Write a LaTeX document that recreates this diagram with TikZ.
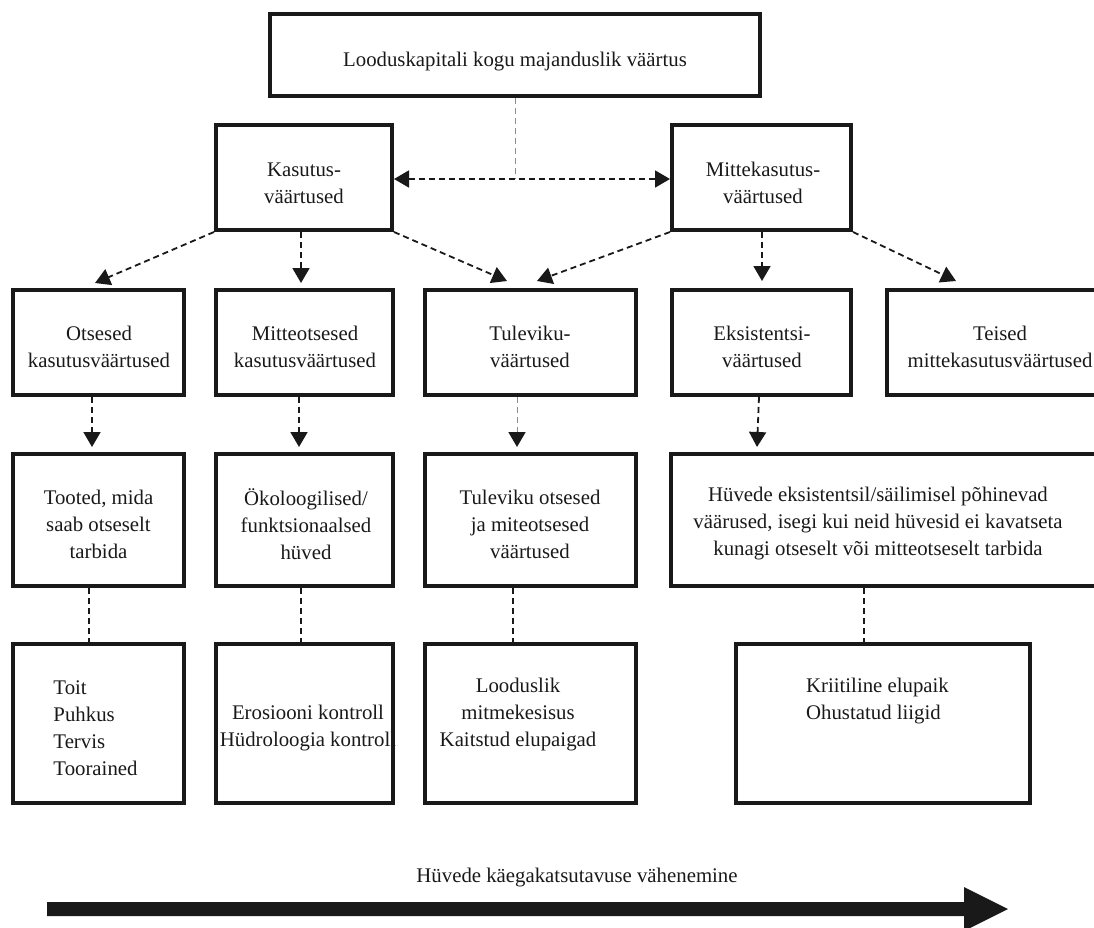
\documentclass[tikz,border=0pt]{standalone}
\usepackage{fontspec}
\setmainfont{Liberation Serif}
\usetikzlibrary{arrows.meta}
\begin{document}
\begin{tikzpicture}[x=1pt,y=-1pt,
  boxn/.style={draw=black!90, line width=4pt, inner sep=0pt, fill=none},
  txt/.style={font=\fontsize{20.8}{27}\selectfont, align=center, inner sep=0pt, text=black!90},
  dl/.style={draw=black!90, line width=1.8pt, dash pattern=on 6pt off 4pt},
  arr/.style={dl, -{Triangle[width=17pt,length=15pt]}},
  darr/.style={dl, {Triangle[width=17pt,length=15pt]}-{Triangle[width=17pt,length=15pt]}},
  thin/.style={draw=black!45, line width=1pt, dash pattern=on 6pt off 4pt}]
\useasboundingbox (0,0) rectangle (1094,928);

% boxes
\node[boxn, minimum width=490pt, minimum height=82pt] (top) at (515,55) {};
\node[boxn, minimum width=176pt, minimum height=105pt] (kas) at (304,177.5) {};
\node[boxn, minimum width=179pt, minimum height=105pt] (mit) at (761.5,177.5) {};

\node[boxn, minimum width=171pt, minimum height=105pt] (r2a) at (98.5,342.5) {};
\node[boxn, minimum width=177pt, minimum height=105pt] (r2b) at (304.5,342.5) {};
\node[boxn, minimum width=211pt, minimum height=105pt] (r2c) at (530.5,342.5) {};
\node[boxn, minimum width=179pt, minimum height=105pt] (r2d) at (761.5,342.5) {};
\node[boxn, minimum width=226pt, minimum height=105pt] (r2e) at (1000,342.5) {};

\node[boxn, minimum width=171pt, minimum height=132pt] (r3a) at (98.5,520) {};
\node[boxn, minimum width=177pt, minimum height=132pt] (r3b) at (304.5,520) {};
\node[boxn, minimum width=211pt, minimum height=132pt] (r3c) at (530.5,520) {};
\node[boxn, minimum width=447pt, minimum height=132pt] (r3d) at (894.5,520) {};

\node[boxn, minimum width=171pt, minimum height=159pt] (r4a) at (98.5,723.5) {};
\node[boxn, minimum width=177pt, minimum height=159pt] (r4b) at (304.5,723.5) {};
\node[boxn, minimum width=211pt, minimum height=159pt] (r4c) at (530.5,723.5) {};
\node[boxn, minimum width=294pt, minimum height=159pt] (r4d) at (883,723.5) {};

% texts
\node[txt] (ttop) at (515,62) {Looduskapitali kogu majanduslik väärtus};
\node[txt] (tkas) at (304,183) {Kasutus-\\väärtused};
\node[txt] (tmit) at (763,183) {Mittekasutus-\\väärtused};
\node[txt] (t2a) at (99,347) {Otsesed\\kasutusväärtused};
\node[txt] (t2b) at (305,347) {Mitteotsesed\\kasutusväärtused};
\node[txt] (t2c) at (530,347) {Tuleviku-\\väärtused};
\node[txt] (t2d) at (762,347) {Eksistentsi-\\väärtused};
\node[txt] (t2e) at (1000,347) {Teised\\mittekasutusväärtused};
\node[txt] (t3a) at (98.5,524) {Tooted, mida\\saab otseselt\\tarbida};
\node[txt] (t3b) at (306,524) {Ökoloogilised/\\funktsionaalsed\\hüved};
\node[txt] (t3c) at (530,524) {Tuleviku otsesed\\ja miteotsesed\\väärtused};
\node[txt] (t3d) at (878,524) {Hüvede eksistentsil/säilimisel põhinevad\\väärused, isegi kui neid hüvesid ei kavatseta\\kunagi otseselt või mitteotseselt tarbida};
\node[txt, align=left] (t4a) at (95.5,728) {Toit\\Puhkus\\Tervis\\Toorained};
\node[txt] (t4b) at (308,728.5) {Erosiooni kontroll\\Hüdroloogia kontroll};
\node[txt] (t4c) at (518,715) {Looduslik\\mitmekesisus\\Kaitstud elupaigad};
\node[txt, align=left] (t4d) at (877.5,701.5) {Kriitiline elupaik\\Ohustatud liigid};
\node[txt] (tarr) at (577,878) {Hüvede käegakatsutavuse vähenemine};

% top connectors
\coordinate (mid) at (515,179);
\draw[thin] (top.south) -- (mid);
\draw[darr] ([shift={(0,1.5)}]kas.east) -- ([shift={(0,1.5)}]mit.west);

% row1 -> row2
\draw[arr] (kas.south west) -- ([shift={(-3.5,-5)}]r2a.north);
\draw[arr] ([shift={(-3,0)}]kas.south) -- ([shift={(-3.5,-5)}]r2b.north);
\draw[arr] (kas.south east) -- ([shift={(-23.5,-7)}]r2c.north);
\draw[arr] (mit.south west) -- ([shift={(6.5,-7)}]r2c.north);
\draw[arr] ([shift={(0.5,0)}]mit.south) -- ([shift={(0.5,-7)}]r2d.north);
\draw[arr] (mit.south east) -- ([shift={(-44,-7)}]r2e.north);

% row2 -> row3
\draw[arr] ([shift={(-6.5,0)}]r2a.south) -- ([shift={(-6.5,-5)}]r3a.north);
\draw[arr] ([shift={(-5.5,0)}]r2b.south) -- ([shift={(-5.5,-5)}]r3b.north);
\draw[thin] ([shift={(-13.5,0)}]r2c.south) -- ([shift={(-13.5,-18)}]r3c.north);
\draw[arr] ([shift={(-13.5,-18)}]r3c.north) -- ([shift={(-13.5,-5)}]r3c.north);
\draw[arr] ([shift={(-2.5,0)}]r2d.south) -- ([shift={(88,-5)}]r3d.north west);

% row3 -> row4
\draw[dl] ([shift={(-9.5,0)}]r3a.south) -- ([shift={(-9.5,0)}]r4a.north);
\draw[dl] ([shift={(-3.5,0)}]r3b.south) -- ([shift={(-3.5,0)}]r4b.north);
\draw[dl] ([shift={(-17.5,0)}]r3c.south) -- ([shift={(-17.5,0)}]r4c.north);
\draw[dl] ([shift={(-30.5,0)}]r3d.south) -- ([shift={(-19,0)}]r4d.north);

% big arrow
\fill[black!90] (47,902) -- (964,902) -- (964,887) -- (1008,909) -- (964,931) -- (964,916) -- (47,916) -- cycle;
\end{tikzpicture}
\end{document}
